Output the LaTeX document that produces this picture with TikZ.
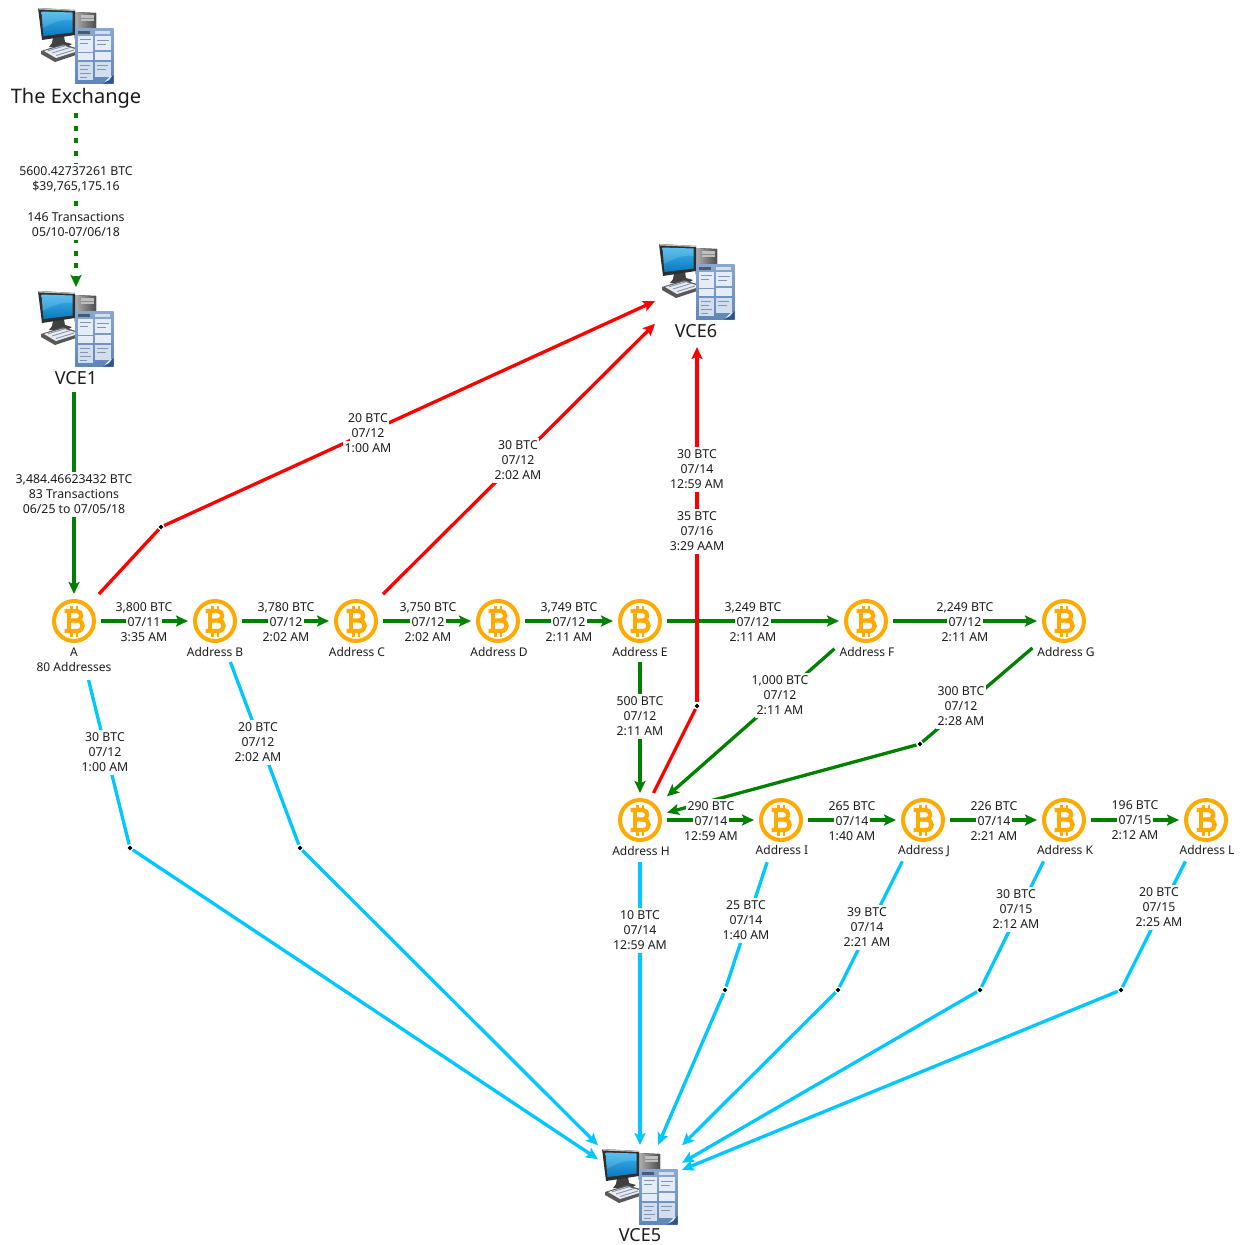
\documentclass[tikz,border=0pt]{standalone}
\usepackage{fontspec}
\setmainfont{Noto Sans}
\usetikzlibrary{arrows.meta,shapes.geometric}
\definecolor{gline}{HTML}{008000}
\definecolor{rline}{HTML}{FF0000}
\definecolor{cline}{HTML}{00C8FF}
\definecolor{coinor}{HTML}{FFAA00}
\definecolor{txt}{HTML}{1C1C1C}
\definecolor{docA}{HTML}{88A8D0}
\definecolor{docB}{HTML}{5F86B8}
\definecolor{pane}{HTML}{E6ECF5}
\definecolor{paneB}{HTML}{D3DEEC}
\definecolor{inkd}{HTML}{7E97B8}
\definecolor{curl}{HTML}{2E5590}
\definecolor{scrA}{HTML}{3FB4EC}
\definecolor{scrB}{HTML}{0A78BE}
\setlength{\fboxsep}{0pt}
\newcommand\lb[1]{\colorbox{white}{\hspace{1.5pt}\rule[-3.5pt]{0pt}{15pt}#1\hspace{1.5pt}}}
\newcommand\tlab[5]{\node[lab] (#1) at (#2) {\lb{#3}\\\lb{#4}\\\lb{#5}};}
\tikzset{
  coinbox/.style={rectangle,minimum width=54pt,minimum height=54pt,inner sep=0pt,outer sep=0pt},
  compbox/.style={rectangle,minimum width=84pt,minimum height=84pt,inner sep=0pt,outer sep=0pt},
  wp/.style={diamond,fill=black,inner sep=0pt,minimum size=6pt,outer sep=1.5pt},
  lab/.style={align=center,inner sep=0pt,outer sep=0pt,text=txt,font=\fontsize{12.3}{15}\selectfont},
  small/.style={inner sep=0pt,text=txt,font=\fontsize{12}{15}\selectfont,align=center},
  big/.style={inner sep=0pt,text=txt,font=\fontsize{18}{22}\selectfont},
  bigger/.style={inner sep=0pt,text=txt,font=\fontsize{20}{24}\selectfont},
  conn/.style={line width=3.3pt},
  gc/.style={conn,draw=gline},
  rc/.style={conn,draw=rline},
  cc/.style={conn,draw=cline},
  tip/.style={-{Stealth[length=12pt,width=11pt,inset=2.5pt]}},
  coin/.pic={
    \draw[coinor,line width=4pt,fill=white] (0,0) circle (20pt);
    \begin{scope}[coinor,line width=4.3pt]
      \draw (-9.5,-10) -- (3,-10) .. controls (8.5,-10) and (8.5,-0.5) .. (3,-0.5) -- (-5,-0.5);
      \draw (3,-0.5) .. controls (10.5,-0.5) and (10.5,10) .. (3,10) -- (-9.5,10);
      \draw (-5,-10) -- (-5,10);
      \draw[line width=2.5pt] (-2.5,-15.5) -- (-2.5,-10) (3,-15.5) -- (3,-10) (-2.5,15.5) -- (-2.5,10) (3,15.5) -- (3,10);
    \end{scope}
  },
  computer/.pic={
    % tower
    \fill[left color=black!30,right color=black!70] (-2,-34) -- (20,-33) -- (20,-8) -- (-2,-8) -- cycle;
    \fill[black!25] (5,-31) rectangle (18,-25);
    \fill[black!45] (5,-28.5) rectangle (18,-27.5);
    % stand
    \fill[black!75] (-23,-9) -- (-12,-10) -- (-11,-4) -- (-4,-2) -- (-9,1) -- (-27,1) -- (-24,-3) -- cycle;
    % monitor
    \fill[black!82] (-38,-38) -- (-1,-36) -- (-1,-11) -- (-34,-6) -- cycle;
    \fill[black!25] (-38,-38) -- (-1,-36) -- (-1,-35) -- (-37,-36.5) -- cycle;
    \shade[top color=scrA,bottom color=scrB] (-34.5,-34.5) -- (-3.5,-33.5) -- (-3.5,-13.5) -- (-32.5,-10) -- cycle;
    \fill[white,opacity=.15] (-34.5,-34.5) -- (-3.5,-33.5) -- (-3.5,-26) .. controls (-15,-28) and (-25,-22) .. (-33.5,-18) -- cycle;
    % keyboard
    \fill[black!65] (-35,5) -- (-13,-2) -- (0,2) -- (0,9) -- (-21,16) -- (-35,8) -- cycle;
    \fill[black!8] (-32,5) -- (-13,-0.5) -- (-1,3) -- (-1,6) -- (-20,12) -- cycle;
    \draw[inkd,line width=.9pt] (-28,4.8) -- (-10,-0.5) (-24,7) -- (-6,1.5) (-20,9.5) -- (-2,4);
    % document
    \shade[top color=docA,bottom color=docB] (-1,-18) rectangle (37.5,37.5);
    \fill[inkd!60!black] (2,-15) rectangle (14,-12.5);
    \fill[paneB] (19,-15) rectangle (34,-12.5);
    \fill[pane] (2.3,-10) rectangle (17.3,5.7);
    \fill[pane] (19,-10) rectangle (34.7,3.5);
    \fill[pane] (2.3,7.3) rectangle (17.3,14);
    \fill[pane] (19,6) rectangle (34.7,14);
    \fill[paneB] (2.3,15.7) rectangle (17.3,34);
    \fill[paneB] (19,15.7) rectangle (34.7,31);
    \draw[inkd,line width=.5pt] (4,-7) -- (15,-7) (4,-3) -- (12,-3) (4,19) -- (14,19) (4,23) -- (12,23) (4,27) -- (15,27) (4,31) -- (11,31) (21,-6) -- (33,-6) (21,-2) -- (30,-2) (21,19) -- (32,19) (21,23) -- (30,23);
    \fill[curl] (27,37.5) -- (37.5,37.5) -- (37.5,29) -- cycle;
    \fill[pane] (28,36.5) -- (33,31.5) -- (36,30) -- (33,34) -- cycle;
  }
}
\begin{document}
\begin{tikzpicture}[x=1pt,y=-1pt]
\useasboundingbox[fill=white] (0,0) rectangle (1241,1245);
% icon nodes
\node[compbox] (EX) at (76,46) {};
\node[compbox] (V1) at (76,329) {};
\node[compbox] (V6) at (697,282) {};
\node[compbox] (V5) at (640,1187) {};
\pic at (EX) {computer};
\pic at (V1) {computer};
\pic at (V6) {computer};
\pic at (V5) {computer};
% coin nodes
\node[coinbox] (A) at (74,621) {};
\node[coinbox] (B) at (215,621) {};
\node[coinbox] (C) at (356,621) {};
\node[coinbox] (D) at (498,621) {};
\node[coinbox] (E) at (640,621) {};
\node[coinbox] (F) at (866,621) {};
\node[coinbox] (G) at (1064,621) {};
\node[coinbox] (H) at (640,820) {};
\node[coinbox] (I) at (781,820) {};
\node[coinbox] (J) at (923,820) {};
\node[coinbox] (K) at (1064,820) {};
\node[coinbox] (L) at (1206,820) {};
\foreach \n in {A,B,C,D,E,F,G,H,I,J,K,L} {\pic at (\n) {coin};}
% way points
\node[wp] (wA) at (161,527) {};
\node[wp] (wH) at (697,706) {};
\node[wp] (wG) at (920,744) {};
\node[wp] (cA) at (130,848) {};
\node[wp] (cB) at (300,848) {};
\node[wp] (cI) at (725,990) {};
\node[wp] (cJ) at (838,990) {};
\node[wp] (cK) at (980,990) {};
\node[wp] (cL) at (1121,990) {};
% green connectors
\draw[gc,tip,dash pattern=on 5pt off 7.5pt,shorten <=25pt] (EX) -- (V1);
\draw[gc,tip,shorten <=21pt] (V1.south -| A) -- (A);
\draw[gc,tip] (A) -- (B);
\draw[gc,tip] (B) -- (C);
\draw[gc,tip] (C) -- (D);
\draw[gc,tip] (D) -- (E);
\draw[gc,tip] (E) -- (F);
\draw[gc,tip] (F) -- (G);
\draw[gc,tip,shorten <=14pt] (E) -- (H);
\draw[gc,tip,shorten <=6pt] (F) -- (H);
\draw[gc,shorten <=6pt] (G) -- (wG);
\draw[gc,tip] (wG) -- (H);
\draw[gc,tip] (H) -- (I);
\draw[gc,tip] (I) -- (J);
\draw[gc,tip] (J) -- (K);
\draw[gc,tip] (K) -- (L);
% red connectors
\draw[rc] (A) -- (wA);
\draw[rc,tip] (wA) -- (V6);
\draw[rc,tip] (C) -- (V6);
\draw[rc] (H) -- (wH);
\draw[rc,tip,shorten >=23pt] (wH) -- (V6);
% cyan connectors
\draw[cc,shorten <=33pt] (A) -- (cA);
\draw[cc,tip] (cA) -- (V5);
\draw[cc,shorten <=15pt] (B) -- (cB);
\draw[cc,tip] (cB) -- (V5);
\draw[cc,tip,shorten <=15pt] (H) -- (V5);
\draw[cc,shorten <=16pt] (I) -- (cI);
\draw[cc,tip] (cI) -- (V5);
\draw[cc,shorten <=16pt] (J) -- (cJ);
\draw[cc,tip] (cJ) -- (V5);
\draw[cc,shorten <=16pt] (K) -- (cK);
\draw[cc,tip] (cK) -- (V5);
\draw[cc,shorten <=16pt] (L) -- (cL);
\draw[cc,tip] (cL) -- (V5);
% names
\node[bigger] (nEX) at (76,98) {The Exchange};
\node[big] (nV1) at (76,378) {VCE1};
\node[big] (nV6) at (696,331) {VCE6};
\node[big] (nV5) at (640,1235) {VCE5};
\node[small] (nA) at (74,659.5) {A\\80 Addresses};
\node[small] (nB) at (215,652) {Address B};
\node[small] (nC) at (357,652) {Address C};
\node[small] (nD) at (499,652) {Address D};
\node[small] (nE) at (640,652) {Address E};
\node[small] (nF) at (867,652) {Address F};
\node[small] (nG) at (1066,652) {Address G};
\node[small] (nH) at (641,850.5) {Address H};
\node[small] (nI) at (782,850) {Address I};
\node[small] (nJ) at (924,851) {Address J};
\node[small] (nK) at (1065,850) {Address K};
\node[small] (nL) at (1207,850) {Address L};
% connector labels
\node[lab] (l1) at (76,178.5) {\lb{5600.42737261 BTC}\\\lb{\$39,765,175.16}};
\node[lab] (l2) at (76,224.5) {\lb{146 Transactions}\\\lb{05/10-07/06/18}};
\tlab{l3}{74,494}{3,484.46623432 BTC}{83 Transactions}{06/25 to 07/05/18}
\tlab{l4}{144,622}{3,800 BTC}{07/11}{3:35 AM}
\tlab{l5}{286,622}{3,780 BTC}{07/12}{2:02 AM}
\tlab{l6}{428,622}{3,750 BTC}{07/12}{2:02 AM}
\tlab{l7}{569,622}{3,749 BTC}{07/12}{2:11 AM}
\tlab{l8}{753,622}{3,249 BTC}{07/12}{2:11 AM}
\tlab{l9}{965,622}{2,249 BTC}{07/12}{2:11 AM}
\tlab{l10}{368,433}{20 BTC}{07/12}{1:00 AM}
\tlab{l11}{518,460}{30 BTC}{07/12}{2:02 AM}
\tlab{l12}{697,469}{30 BTC}{07/14}{12:59 AM}
\tlab{l13}{697,531}{35 BTC}{07/16}{3:29 AAM}
\tlab{l14}{105,752}{30 BTC}{07/12}{1:00 AM}
\tlab{l15}{258,742}{20 BTC}{07/12}{2:02 AM}
\tlab{l16}{640,716}{500 BTC}{07/12}{2:11 AM}
\tlab{l17}{780,695}{1,000 BTC}{07/12}{2:11 AM}
\tlab{l18}{961,706}{300 BTC}{07/12}{2:28 AM}
\tlab{l19}{711,821}{290 BTC}{07/14}{12:59 AM}
\tlab{l20}{852,821}{265 BTC}{07/14}{1:40 AM}
\tlab{l21}{994,821}{226 BTC}{07/14}{2:21 AM}
\tlab{l22}{1135,820}{196 BTC}{07/15}{2:12 AM}
\tlab{l23}{640,930}{10 BTC}{07/14}{12:59 AM}
\tlab{l24}{746,920}{25 BTC}{07/14}{1:40 AM}
\tlab{l25}{867,927}{39 BTC}{07/14}{2:21 AM}
\tlab{l26}{1016,909}{30 BTC}{07/15}{2:12 AM}
\tlab{l27}{1159,907}{20 BTC}{07/15}{2:25 AM}
\end{tikzpicture}
\end{document}
